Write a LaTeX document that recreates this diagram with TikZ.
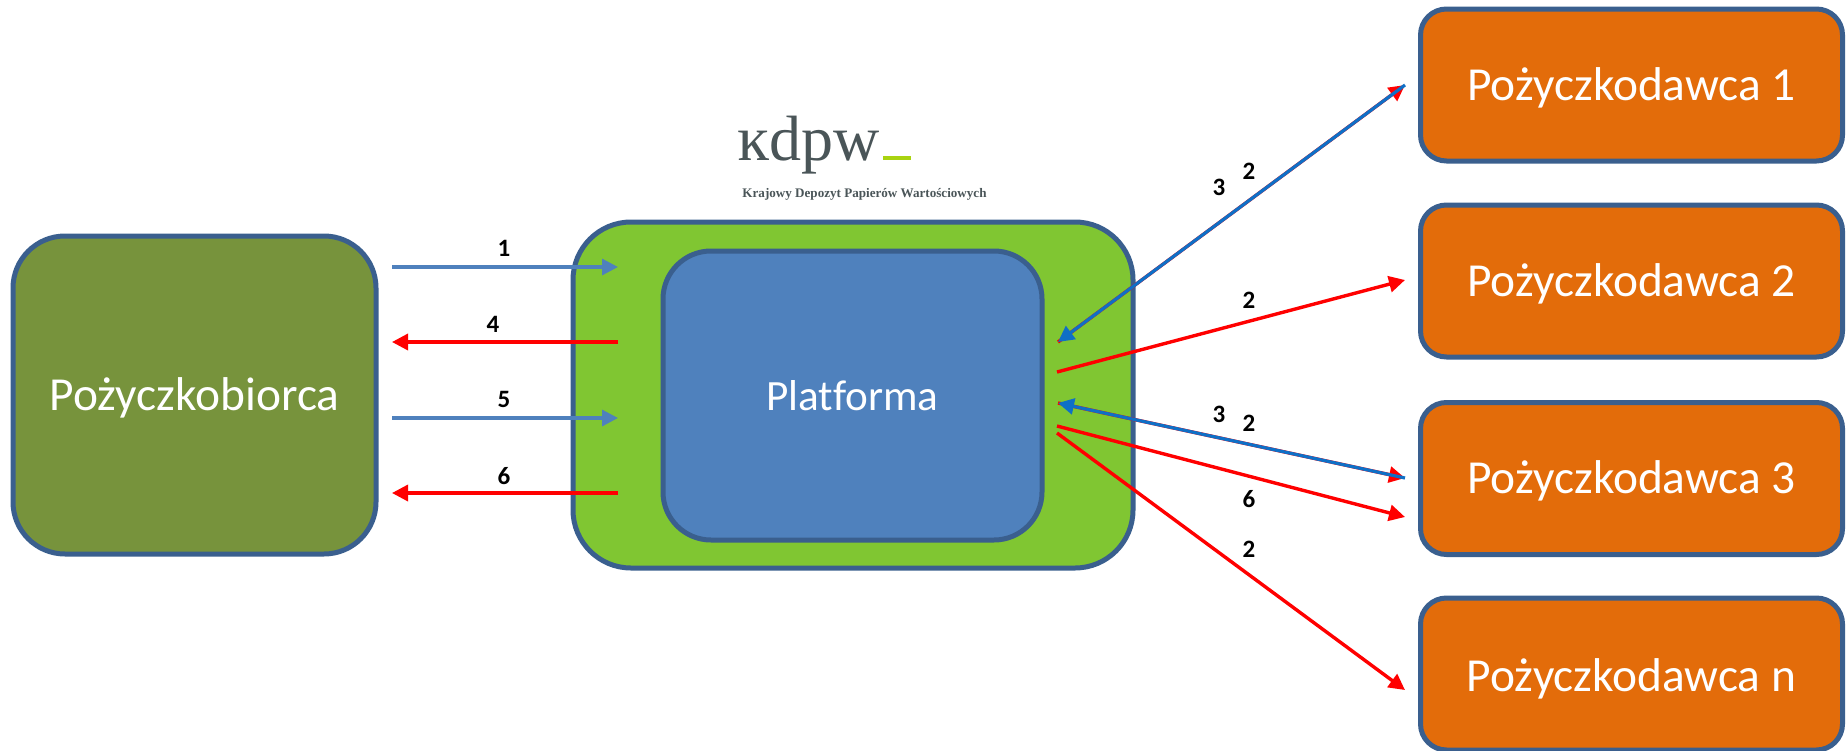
\documentclass[tikz,border=0pt]{standalone}
\usepackage{fontspec}
\setmainfont[Ligatures=NoCommon]{Carlito}
\newfontfamily\logofont{Liberation Serif}
\usetikzlibrary{arrows.meta}
\definecolor{edgeblue}{HTML}{3A5F8E}
\definecolor{olivebox}{HTML}{77933C}
\definecolor{greenbox}{HTML}{80C632}
\definecolor{bluebox}{HTML}{4F81BD}
\definecolor{orangebox}{HTML}{E36C0A}
\definecolor{arrowblue}{HTML}{4F81BD}
\definecolor{linkblue}{HTML}{0F6FC6}
\definecolor{logogrey}{HTML}{4A5558}
\definecolor{logogreen}{HTML}{A9D311}
\tikzset{
  x=0.5pt,y=-0.5pt,
  box/.style={draw=edgeblue,line width=2.5pt,text=white,inner sep=0pt,text height=19pt,text depth=4pt,font=\fontsize{23.7}{28}\selectfont},
  lender/.style={box,fill=orangebox,minimum width=211pt,minimum height=76pt,rounded corners=13pt},
  num/.style={font=\bfseries\fontsize{12.5}{15}\selectfont,text=black,inner sep=0pt},
  flowblue/.style={draw=arrowblue,line width=1.6pt,-{Triangle[length=8pt,width=8pt]}},
  flowred/.style={draw=red,line width=1.7pt,-{Triangle[length=8pt,width=8pt]}},
  linkback/.style={draw=linkblue,line width=1.6pt,-{Triangle[length=8pt,width=8pt]}},
}
\begin{document}
\begin{tikzpicture}
\useasboundingbox (0,0) rectangle (1848,750);
% boxes
\node[box,fill=olivebox,minimum width=181.5pt,minimum height=159pt,rounded corners=26pt] (borrower) at (194.5,395) {Pożyczkobiorca};
\node[box,fill=greenbox,minimum width=280pt,minimum height=173pt,rounded corners=29pt] (outer) at (853,395) {};
\node[box,fill=bluebox,minimum width=189.5pt,minimum height=144.5pt,rounded corners=24pt,font=\fontsize{21.6}{26}\selectfont] (platform) at (852.5,395.5) {Platforma};
\node[lender] (l1) at (1631.5,85) {Pożyczkodawca 1};
\node[lender] (l2) at (1631.5,281) {Pożyczkodawca 2};
\node[lender] (l3) at (1631.5,478.5) {Pożyczkodawca 3};
\node[lender,text height=21pt] (ln) at (1631.5,674) {Pożyczkodawca n};
% logo
\node[inner sep=0pt,anchor=base west,text=logogrey,font=\logofont\fontsize{32}{36}\selectfont] (logo) at (737,160) {ĸdpw};
\node[draw=none,fill=logogreen,minimum width=14pt,minimum height=2pt,inner sep=0pt,anchor=west] (logobar) at (883,158) {};
\node[inner sep=0pt,text=logogrey,font=\logofont\bfseries\fontsize{6.55}{9}\selectfont] (logosub) at (864.5,194) {Krajowy Depozyt Papierów Wartościowych};
% free ends
\foreach \n/\x/\y in {a1/392/267,b1/618/267,a4/618/342,b4/392/342,a5/392/418,b5/618/418,a6/618/493,b6/392/493,
  p1/1058/342,q1/1405/85,p2/1057/372,q2/1405/280,p3/1058/403,q3/1405/478,p6/1057/426,q6/1405/517,pn/1057/433,qn/1405/690}
  {\coordinate (\n) at (\x,\y);}
% left arrows
\draw[flowblue] (a1) -- (b1);
\draw[flowred] (a4) -- (b4);
\draw[flowblue] (a5) -- (b5);
\draw[flowred] (a6) -- (b6);
% right arrows
\draw[flowred] (p1) -- (q1);
\draw[linkback] (q1) -- (p1);
\draw[flowred] (p2) -- (q2);
\draw[flowred] (p3) -- (q3);
\draw[linkback] (q3) -- (p3);
\draw[flowred] (p6) -- (q6);
\draw[flowred] (pn) -- (qn);
% numbers
\node[num] (n1) at (504,248) {1};
\node[num] (n4) at (493,324) {4};
\node[num] (n5) at (504,399) {5};
\node[num] (n6) at (504,476) {6};
\node[num] (n3a) at (1219,187) {3};
\node[num] (n2a) at (1249,171) {2};
\node[num] (n2b) at (1249,300) {2};
\node[num] (n3c) at (1219,414) {3};
\node[num] (n2c) at (1249,423) {2};
\node[num] (n6c) at (1249,499) {6};
\node[num] (n2d) at (1249,549) {2};
\end{tikzpicture}
\end{document}
